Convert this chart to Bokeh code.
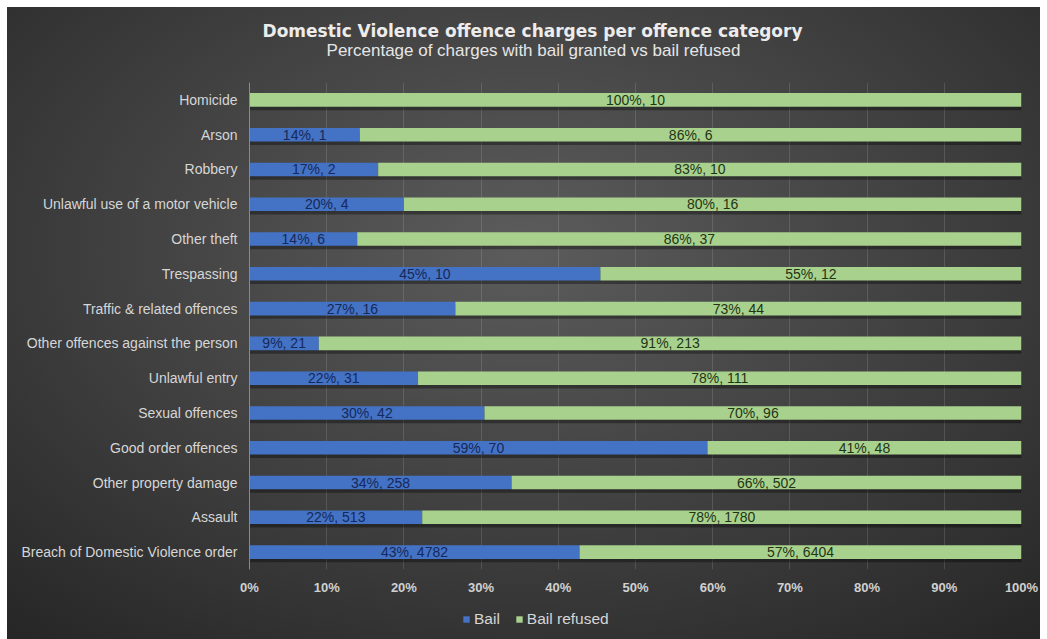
from bokeh.plotting import figure
from bokeh.layouts import column
from bokeh.models import (ColumnDataSource, FactorRange, Range1d, FixedTicker,
                          NumeralTickFormatter, Label, Legend, LegendItem)
from bokeh.transform import dodge
from bokeh.core.properties import value
from bokeh.embed import file_html
from bokeh.resources import INLINE

# ---------------- data ----------------
categories = [
    "Homicide",
    "Arson",
    "Robbery",
    "Unlawful use of a motor vehicle",
    "Other theft",
    "Trespassing",
    "Traffic & related offences",
    "Other offences against the person",
    "Unlawful entry",
    "Sexual offences",
    "Good order offences",
    "Other property damage",
    "Assault",
    "Breach of Domestic Violence order",
]
bail_counts = [0, 1, 2, 4, 6, 10, 16, 21, 31, 42, 70, 258, 513, 4782]
refused_counts = [10, 6, 10, 16, 37, 12, 44, 213, 111, 96, 48, 502, 1780, 6404]
bail_pct = [0, 14, 17, 20, 14, 45, 27, 9, 22, 30, 59, 34, 22, 43]
refused_pct = [100, 86, 83, 80, 86, 55, 73, 91, 78, 70, 41, 66, 78, 57]
x_ticks = [0, 0.1, 0.2, 0.3, 0.4, 0.5, 0.6, 0.7, 0.8, 0.9, 1.0]
series_names = ["Bail", "Bail refused"]

title_text = "Domestic Violence offence charges per offence category"
subtitle_text = "Percentage of charges with bail granted vs bail refused"

# ---------------- derived ----------------
totals = [b + r for b, r in zip(bail_counts, refused_counts)]
bail_frac = [b / t for b, t in zip(bail_counts, totals)]

src = ColumnDataSource(dict(
    cat=categories,
    zero=[0.0] * len(categories),
    bail_end=bail_frac,
    full=[1.0] * len(categories),
))

bl_idx = [i for i, b in enumerate(bail_counts) if b > 0]
bail_lab_src = ColumnDataSource(dict(
    cat=[categories[i] for i in bl_idx],
    x=[bail_frac[i] / 2 for i in bl_idx],
    txt=[f"{bail_pct[i]}%, {bail_counts[i]}" for i in bl_idx],
))
ref_lab_src = ColumnDataSource(dict(
    cat=categories,
    x=[(bf + 1.0) / 2 for bf in bail_frac],
    txt=[f"{p}%, {c}" for p, c in zip(refused_pct, refused_counts)],
))

BLUE = "#4472c4"
GREEN = "#a9d18e"
FONT = "Liberation Sans"
W = 1040


def bare(fig):
    fig.border_fill_color = None
    fig.background_fill_color = None
    fig.outline_line_color = None
    return fig


# ---------------- header (titles) ----------------
head = bare(figure(width=W, height=82, x_range=Range1d(0, 1), y_range=Range1d(0, 1),
                   output_backend="svg", toolbar_location=None,
                   min_border_left=0, min_border_right=0, min_border_top=0,
                   min_border_bottom=0))
head.xaxis.visible = False
head.yaxis.visible = False
head.xgrid.visible = False
head.ygrid.visible = False
# x is measured from the (column-aligned) frame left edge
head.add_layout(Label(x=283, y=52, x_units="screen", y_units="screen", text=title_text,
                      text_align="center", text_baseline="middle",
                      text_font="DejaVu Sans", text_font_style="bold",
                      text_font_size="17px", text_color="#ececec"))
head.add_layout(Label(x=284, y=32, x_units="screen", y_units="screen", text=subtitle_text,
                      text_align="center", text_baseline="middle",
                      text_font=FONT, text_font_size="17px", text_color="#e6e6e6"))

# ---------------- main chart ----------------
p = bare(figure(
    width=W, height=522,
    y_range=FactorRange(factors=list(reversed(categories))),
    x_range=Range1d(0, 1),
    output_backend="svg", toolbar_location=None,
    min_border_left=249, min_border_right=19,
    min_border_top=0, min_border_bottom=35,
))

p.hbar(y=dodge("cat", -0.1, range=p.y_range), left="zero", right="full", height=0.39,
       source=src, fill_color="black", fill_alpha=0.35, line_color=None)
p.hbar(y="cat", left="zero", right="bail_end", height=0.39, source=src,
       fill_color=BLUE, line_color=None)
p.hbar(y="cat", left="bail_end", right="full", height=0.39, source=src,
       fill_color=GREEN, line_color=None)

p.text(x="x", y="cat", text="txt", source=bail_lab_src, text_align="center",
       text_baseline="middle", text_font=value(FONT), text_font_size="14px",
       text_color="#15295a")
p.text(x="x", y="cat", text="txt", source=ref_lab_src, text_align="center",
       text_baseline="middle", text_font=value(FONT), text_font_size="14px",
       text_color="#1f3514")

p.xaxis.ticker = FixedTicker(ticks=x_ticks)
p.xaxis.formatter = NumeralTickFormatter(format="0%")
p.xaxis.axis_line_color = None
p.xaxis.major_tick_line_color = None
p.xaxis.minor_tick_line_color = None
p.xaxis.major_tick_out = 0
p.xaxis.major_tick_in = 0
p.xaxis.minor_tick_out = 0
p.xaxis.major_label_text_font = FONT
p.xaxis.major_label_text_font_style = "bold"
p.xaxis.major_label_text_font_size = "13px"
p.xaxis.major_label_text_color = "#d0d0d0"
p.xaxis.major_label_standoff = 10

p.yaxis.axis_line_color = "#8a8a8a"
p.yaxis.major_tick_line_color = None
p.yaxis.minor_tick_line_color = None
p.yaxis.major_tick_out = 0
p.yaxis.major_tick_in = 0
p.yaxis.minor_tick_out = 0
p.yaxis.major_label_text_font = FONT
p.yaxis.major_label_text_font_size = "14px"
p.yaxis.major_label_text_color = "#d6d6d6"
p.yaxis.major_label_standoff = 12

p.ygrid.grid_line_color = None
p.xgrid.ticker = FixedTicker(ticks=x_ticks)
p.xgrid.grid_line_color = "#ffffff"
p.xgrid.grid_line_alpha = 0.13

# ---------------- footer (legend) ----------------
foot = bare(figure(width=W, height=35, x_range=Range1d(0, 1), y_range=Range1d(0, 1),
                   output_backend="svg", toolbar_location=None,
                   min_border_left=0, min_border_right=0, min_border_top=0,
                   min_border_bottom=0))
foot.xaxis.visible = False
foot.yaxis.visible = False
foot.xgrid.visible = False
foot.ygrid.visible = False
# zero-size proxies (same data) that only carry the legend swatches
lg_bail = foot.hbar(y="zero", left="zero", right="zero", height=0, source=src,
                    fill_color=BLUE, line_color=None)
lg_ref = foot.hbar(y="zero", left="zero", right="zero", height=0, source=src,
                   fill_color=GREEN, line_color=None)
legend = Legend(items=[LegendItem(label=series_names[0], renderers=[lg_bail]),
                       LegendItem(label=series_names[1], renderers=[lg_ref])],
                location=(213, 11), orientation="horizontal",
                background_fill_alpha=0, border_line_alpha=0,
                label_text_color="#d6d6d6", label_text_font=FONT,
                label_text_font_size="15.5px", glyph_width=8, glyph_height=8,
                label_height=18, padding=0, margin=0, spacing=15, label_standoff=4)
foot.add_layout(legend)

layout = column(head, p, foot, spacing=0)
layout.styles = {
    "background": "radial-gradient(ellipse 75% 80% at 50% 38%, #5c5c5c 0%, #3f3f3f 55%, #272727 100%) 7px 7px / calc(100% - 7px) calc(100% - 7px) no-repeat, #ffffff"
}

open("out.html", "w").write(file_html(layout, INLINE))
